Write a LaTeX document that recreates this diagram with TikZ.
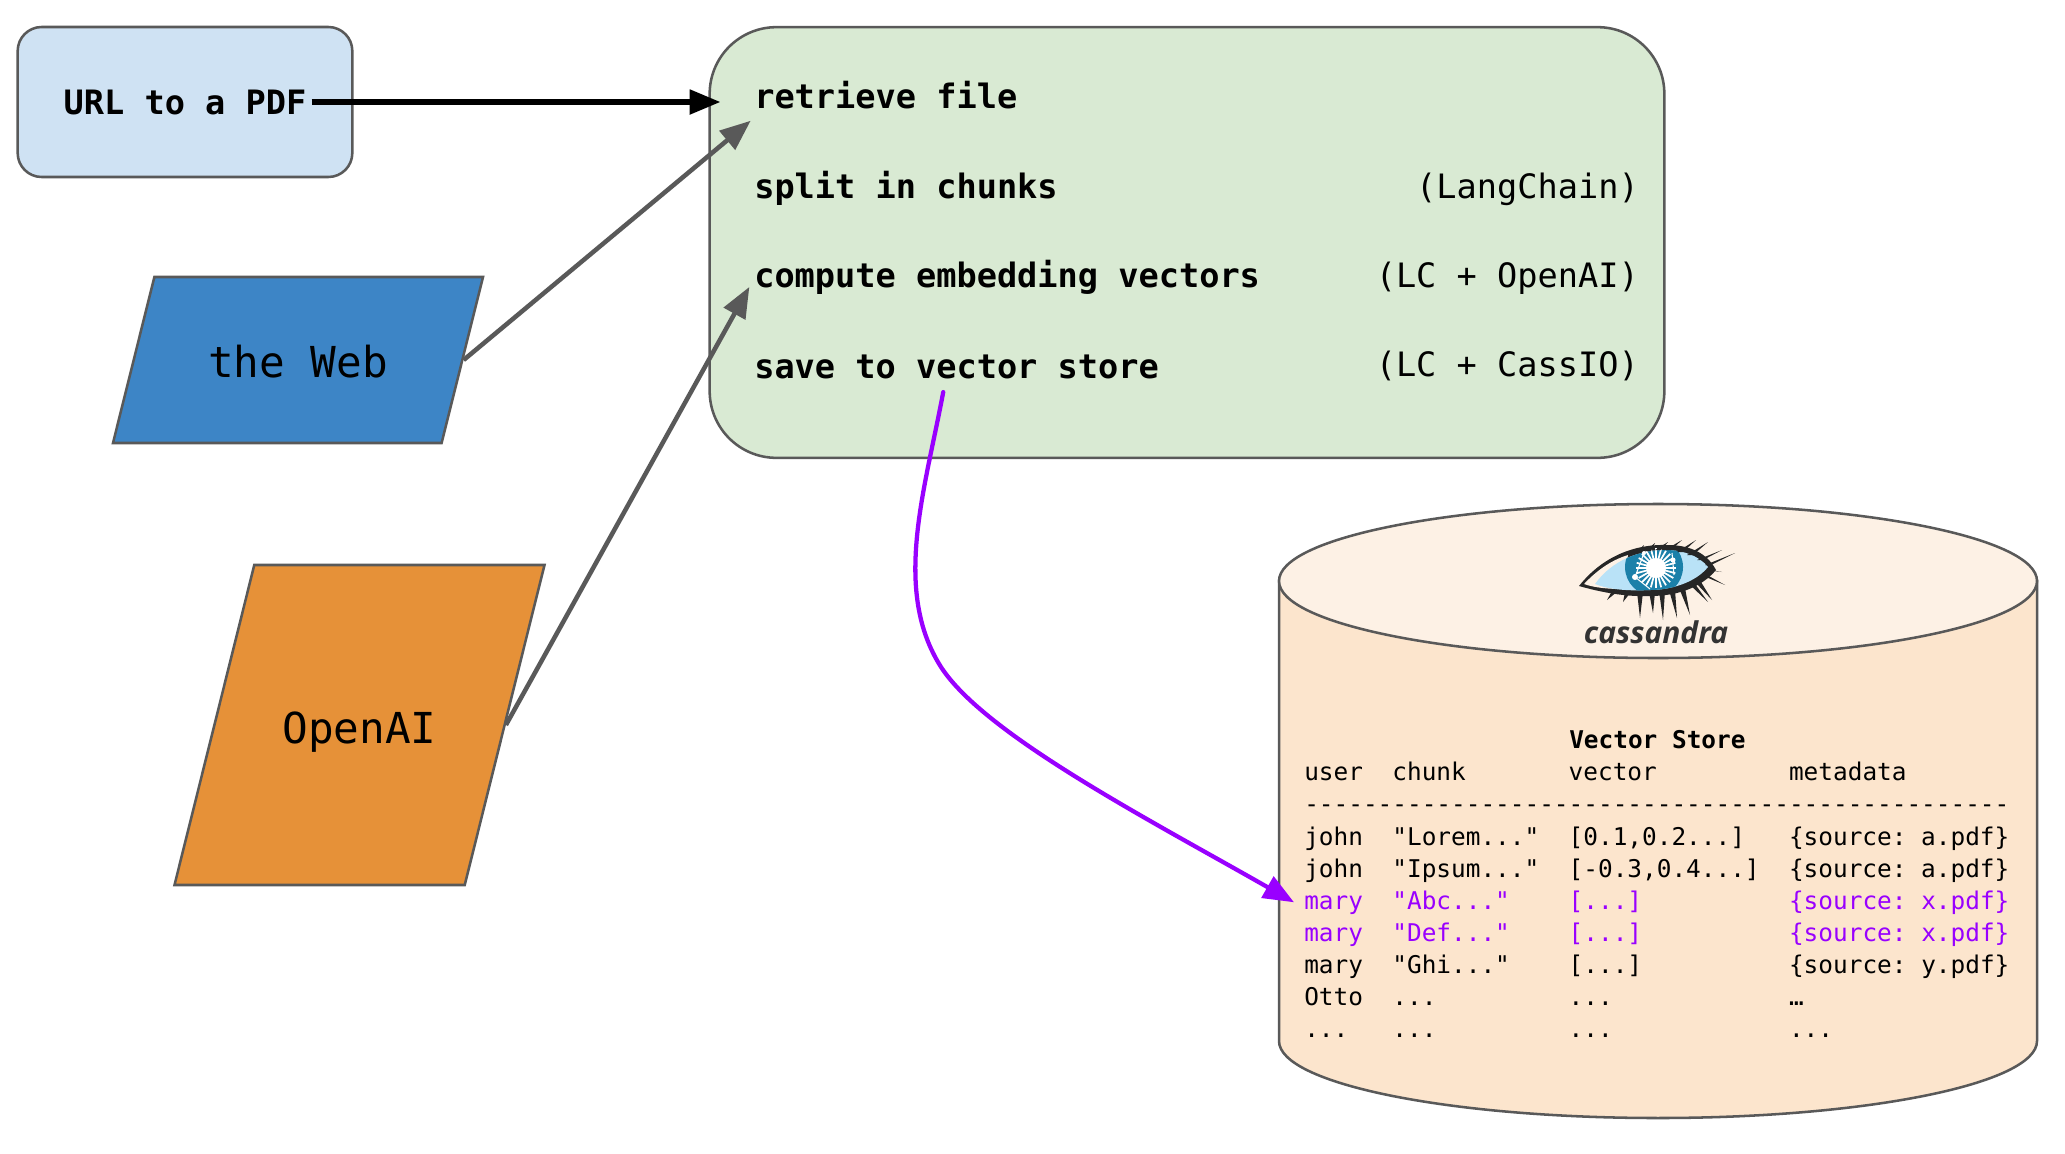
\documentclass[tikz,border=0pt]{standalone}
\usepackage{fontspec}
\setmonofont{DejaVu Sans Mono}
\newfontfamily\logofont{Open Sans}
\usetikzlibrary{arrows.meta,shapes.geometric}
\definecolor{edgegrey}{HTML}{595959}
\definecolor{urlblue}{HTML}{CFE2F3}
\definecolor{webblue}{HTML}{3D85C6}
\definecolor{aiorange}{HTML}{E69138}
\definecolor{stepgreen}{HTML}{D9EAD3}
\definecolor{storebody}{HTML}{FCE5CD}
\definecolor{storetop}{HTML}{FDF1E5}
\definecolor{rowpurple}{HTML}{9900FF}
\definecolor{eyeblue}{HTML}{B9E2F7}
\definecolor{irisblue}{HTML}{1B80A9}
\tikzset{
    outline/.style={draw=edgegrey,line width=1.9pt},
    steptext/.style={anchor=base west,inner sep=0,font=\ttfamily\bfseries\fontsize{25.2}{30}\selectfont},
    toolstext/.style={anchor=base east,inner sep=0,font=\ttfamily\fontsize{25.2}{30}\selectfont},
    source/.style={outline,trapezium,trapezium left angle=76,trapezium right angle=104,
        trapezium stretches body,inner xsep=0,text depth=0pt,
        minimum width=277.5pt,font=\ttfamily\fontsize{32}{38}\selectfont},
    rowtext/.style={anchor=base west,inner sep=0,font=\ttfamily\fontsize{18.3}{22}\selectfont},
    feedarrow/.style={-{Triangle[length=23pt,width=18pt]},draw=edgegrey,line width=3.4pt},
    urlarrow/.style={-{Triangle[length=23pt,width=18pt]},line width=3.8pt},
    savearrow/.style={-{Triangle[length=23pt,width=18pt]},draw=rowpurple,line width=3.2pt},
    lash/.style={black!85},
}
\begin{document}
\begin{tikzpicture}[x=.75pt,y=-.75pt]
    \useasboundingbox (0,0) rectangle (2065,1153);
    % boxes on the left and the steps
    \node[outline,fill=urlblue,rounded corners=18pt,minimum width=251pt,minimum height=112.5pt,inner sep=0,
        font=\ttfamily\bfseries\fontsize{25.2}{30}\selectfont] (url) at (185,102) {URL to a PDF};
    \node[source,fill=webblue,text height=26pt,inner ysep=49.25pt] (web) at (298,360) {the Web};
    \node[source,fill=aiorange,text height=28pt,inner ysep=106pt] (openai) at (359.5,725) {OpenAI};
    \node[outline,fill=stepgreen,rounded corners=50pt,minimum width=716pt,minimum height=323pt] (steps) at (1187,242.5) {};
    \node[steptext] (retrieve) at (754,108) {retrieve file};
    \node[steptext] (split) at (754,198) {split in chunks};
    \node[steptext] (compute) at (754,287) {compute embedding vectors};
    \node[steptext] (save) at (754,378) {save to vector store};
    \node[toolstext] (langchain) at (1639,198) {(LangChain)};
    \node[toolstext] (lcopenai) at (1639,287) {(LC + OpenAI)};
    \node[toolstext] (lccassio) at (1639,376) {(LC + CassIO)};
    % the store
    \draw[outline,fill=storebody] (1279,581) -- (1279,1041)
        arc[start angle=180,end angle=360,x radius=284.25pt,y radius=57.75pt] -- (2037,581) -- cycle;
    \draw[outline,fill=storetop] (1658,581) ellipse[x radius=379,y radius=77];
    % eye of the logo
    \fill[black!85] (1579,586) .. controls (1605,553) and (1640,544) .. (1667,545)
        .. controls (1690,545) and (1707,553) .. (1716,570) .. controls (1700,589) and (1675,596) .. (1650,596)
        .. controls (1625,597) and (1600,592) .. cycle;
    \fill[storetop] (1584,584) .. controls (1600,567) and (1615,559) .. (1628,555) -- (1622,589) .. controls (1610,589) and (1595,588) .. cycle;
    \begin{scope}
        \clip (1595,584) .. controls (1612,560) and (1640,550) .. (1665,550)
            .. controls (1685,550) and (1700,557) .. (1708,567) .. controls (1695,583) and (1670,590) .. (1650,590)
            .. controls (1630,591) and (1610,590) .. cycle;
        \fill[eyeblue] (1570,540) rectangle (1720,600);
        \fill[irisblue] (1654,567) circle[radius=29];
    \end{scope}
    \foreach \ang in {0,15,...,345}
        \draw[white,line width=1.3pt] (1656,568) -- ++(\ang:15pt);
    \fill[white] (1656,568) circle[radius=10];
    \draw[white,line width=.8pt] (1644,553) -- (1635,577) -- (1650,589);
    \draw[white,line width=.8pt] (1672,553) -- (1674,575);
    \fill[white] (1635,577) circle[radius=3] (1644,553) circle[radius=2] (1673,560) circle[radius=2.5];
    \foreach \ax/\ay/\bx/\by in {1638/553/1644/545,1648/551/1655/543,1658/550/1668/542,1668/550/1682/540,
        1680/552/1696/540,1690/555/1708/542,1700/560/1722/550,1708/565/1735/553,
        1708/570/1722/572,1704/575/1725/585,1698/582/1712/600,
        1615/591/1607/600,1628/592/1623/602,1640/592/1640/618,1652/592/1653/613,
        1662/591/1663/620,1672/590/1677/618,1682/588/1690/615,1692/584/1708/602}
        \fill[lash] (\ax-3,\ay) -- (\ax+3,\ay) -- (\bx,\by) -- cycle;
    \node[inner sep=0,text=black!80,font=\logofont\bfseries\itshape\fontsize{22.5}{26}\selectfont] (logoname) at (1656,632) {cassandra};
    % rows of the table
    \node[rowtext,font=\ttfamily\bfseries\fontsize{18.3}{22}\selectfont] (rowtitle) at (1569,748) {Vector Store};
    \node[rowtext] (rowhead) at (1304,780) {user~~chunk~~~~~~~vector~~~~~~~~~metadata};
    \node[rowtext] (rowdash) at (1304,812) {{-}{-}{-}{-}{-}{-}{-}{-}{-}{-}{-}{-}{-}{-}{-}{-}{-}{-}{-}{-}{-}{-}{-}{-}{-}{-}{-}{-}{-}{-}{-}{-}{-}{-}{-}{-}{-}{-}{-}{-}{-}{-}{-}{-}{-}{-}{-}{-}};
    \node[rowtext] (rowjohna) at (1304,845) {john~~"Lorem..."~~[0.1,0.2...]~~~\{source:~a.pdf\}};
    \node[rowtext] (rowjohnb) at (1304,877) {john~~"Ipsum..."~~[-0.3,0.4...]~~\{source:~a.pdf\}};
    \node[rowtext,text=rowpurple] (rowmarya) at (1304,909) {mary~~"Abc..."~~~~[...]~~~~~~~~~~\{source:~x.pdf\}};
    \node[rowtext,text=rowpurple] (rowmaryb) at (1304,941) {mary~~"Def..."~~~~[...]~~~~~~~~~~\{source:~x.pdf\}};
    \node[rowtext] (rowmaryc) at (1304,973) {mary~~"Ghi..."~~~~[...]~~~~~~~~~~\{source:~y.pdf\}};
    \node[rowtext] (rowotto) at (1304,1005) {Otto~~...~~~~~~~~~...~~~~~~~~~~~~…};
    \node[rowtext] (rowlast) at (1304,1037) {...~~~...~~~~~~~~~...~~~~~~~~~~~~...};
    % connectors
    \draw[urlarrow] ([xshift=-31.5pt]url.east) -- ([xshift=9pt]steps.west |- url.east);
    \draw[feedarrow] (web.east) -- ([xshift=-2.5pt,yshift=-9pt]retrieve.south west);
    \draw[feedarrow] (openai.east) -- ([xshift=-3.5pt,yshift=5.5pt]compute.south west);
    \draw[savearrow,line cap=round] ([xshift=-10pt,yshift=-10pt]save.south) .. controls (925,490) and (892,590) .. (941,667)
        .. controls (985,735) and (1150,820) .. ([xshift=-7.5pt]rowmarya.west);
\end{tikzpicture}
\end{document}
